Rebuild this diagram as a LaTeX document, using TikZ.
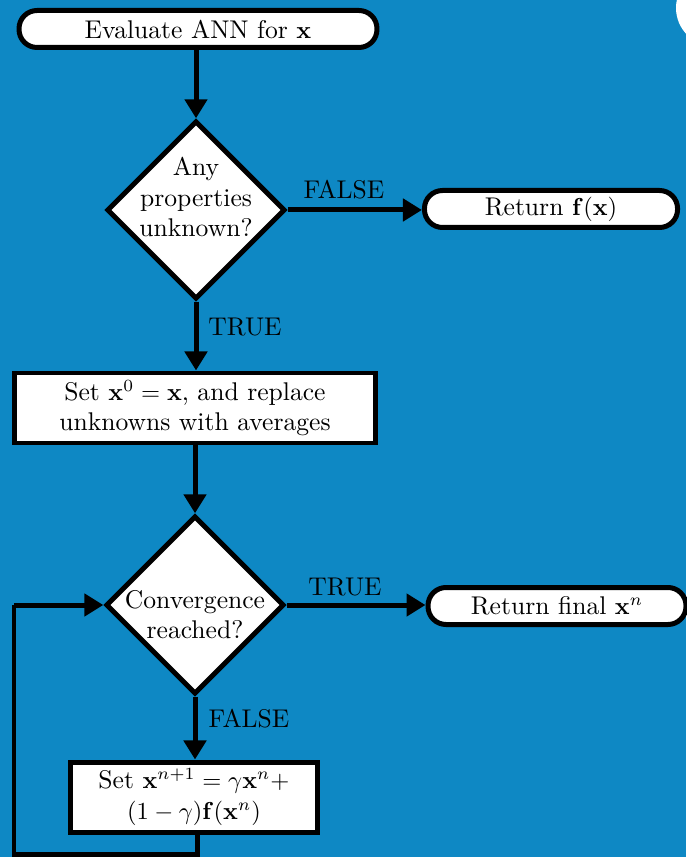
\documentclass[tikz,border=0pt]{standalone}
\usetikzlibrary{shapes.geometric,arrows.meta}
\definecolor{bgblue}{RGB}{14,136,196}
\newcommand{\dtext}[2]{\makebox[0pt]{\raisebox{#1}[0pt][0pt]{\begin{tabular}{@{}c@{}}#2\end{tabular}}}}
\begin{document}
\begin{tikzpicture}[x=0.40816pt,y=-0.40816pt,
  every node/.style={font=\fontsize{10.45}{12.5}\selectfont},
  term/.style={draw=black,fill=white,line width=2.04pt,rounded corners=7.35pt,minimum height=15.1pt,inner sep=0pt},
  procbox/.style={draw=black,fill=white,line width=2.04pt,minimum height=28.57pt,inner sep=0pt,align=center},
  decide/.style={draw=black,fill=white,line width=2.04pt,diamond,aspect=1,inner sep=0pt,minimum width=72.8pt,minimum height=72.8pt},
  flow/.style={line width=2.04pt,-{Triangle[length=7.76pt,width=8.98pt]}},
  lbl/.style={inner sep=0pt}]
\useasboundingbox (0,0) rectangle (686,857);
\fill[bgblue] (0,0) rectangle (686,857);
\begin{scope}
\clip (0,0) rectangle (686,857);
\fill[white] (714,8) circle (38);
\end{scope}
\node[term,minimum width=146.1pt] (start) at (198,29) {Evaluate ANN for $\mathbf{x}$};
\node[decide] (d1) at (196,210) {\dtext{1.5pt}{Any\\properties\\unknown?}};
\node[term,minimum width=103.3pt] (f1) at (551,209) {Return $\mathbf{f}(\mathbf{x})$};
\node[procbox,minimum width=147.3pt] (b1) at (195,408) {Set $\mathbf{x}^0=\mathbf{x}$, and replace\\unknowns with averages};
\node[decide] (d2) at (195,605) {\dtext{-7.5pt}{Convergence\\reached?}};
\node[term,minimum width=105.3pt] (f2) at (557,606) {Return final $\mathbf{x}^n$};
\node[procbox,minimum width=100.8pt] (b2) at (194,797) {Set $\mathbf{x}^{n+1}=\gamma\mathbf{x}^n+$\\$(1-\gamma)\mathbf{f}(\mathbf{x}^n)$};
\coordinate (c1) at (197,854);
\coordinate (c2) at (14,854);
\coordinate (c3) at (14,605);
\draw[flow] (start.south -| d1) -- (d1);
\draw[flow] (d1) -- (d1 -| f1.west);
\draw[flow] (d1) -- (b1.north -| d1);
\draw[flow] (b1.south -| d2) -- (d2);
\draw[flow] (d2) -- (d2 -| f2.west);
\draw[flow] (d2) -- (b2.north -| d2);
\draw[line width=2.04pt] (b2.south -| c1) -- (c1) -- (c2) -- (c3);
\draw[flow] (c3) -- (d2.west);
\node[lbl] (l1) at (344,190) {FALSE};
\node[lbl] (l2) at (245,327) {TRUE};
\node[lbl] (l3) at (345,587) {TRUE};
\node[lbl] (l4) at (249,719) {FALSE};
\end{tikzpicture}
\end{document}
